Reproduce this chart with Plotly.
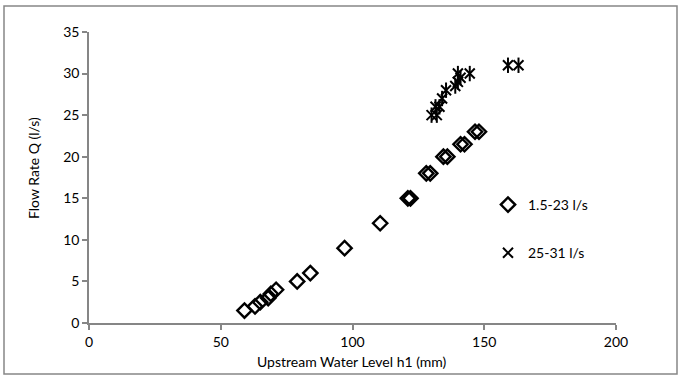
import plotly.graph_objects as go

# Series 1: 1.5-23 l/s (diamonds)
h1_low = [59, 63, 65, 68, 69, 71, 79, 84, 97, 110.5, 121, 122, 128, 129.5, 134.5, 136, 141, 142.5, 146.5, 148]
q_low = [1.5, 2, 2.5, 3, 3.5, 4, 5, 6, 9, 12, 15, 15, 18, 18, 20, 20, 21.5, 21.5, 23, 23]

# Series 2: 25-31 l/s (stars)
h1_high = [130, 132, 131.5, 133, 134, 135.5, 139, 140, 140, 141, 144.5, 159, 163]
q_high = [25, 25, 26, 26, 27, 28, 28.5, 29, 30, 29.5, 30, 31, 31]

x_ticks = [0, 50, 100, 150, 200]
y_ticks = [0, 5, 10, 15, 20, 25, 30, 35]

FONT = "Lato"
FS = 14
AXIS_COLOR = "#868686"

fig = go.Figure()

fig.add_trace(go.Scatter(
    x=h1_low, y=q_low, mode="markers", name="1.5-23 l/s", legendgroup="a",
    marker=dict(symbol="diamond-open", size=11, color="black",
                line=dict(width=2.4, color="black")),
))
fig.add_trace(go.Scatter(
    x=h1_high, y=q_high, mode="markers", name="25-31 l/s", legendgroup="b",
    marker=dict(symbol="x-thin-open", size=10, color="black",
                line=dict(width=2, color="black")),
))
fig.add_trace(go.Scatter(
    x=h1_high, y=q_high, mode="markers", showlegend=False, hoverinfo="skip",
    legendgroup="b",
    marker=dict(symbol="line-ns-open", size=11, color="black",
                line=dict(width=2, color="black")),
))

L, R, T, B = 89, 64, 32, 55
W, H = 680, 378
pw, ph = W - L - R, H - T - B

def px_x(px):
    return (px - L) / pw

def px_y(py):
    return (H - B - py) / ph

fig.update_layout(
    width=W, height=H,
    margin=dict(l=L, r=R, t=T, b=B),
    paper_bgcolor="white", plot_bgcolor="white",
    font=dict(family=FONT, size=FS, color="black"),
    showlegend=True,
    legend=dict(x=px_x(488), y=px_y(189), xanchor="left", yanchor="top",
                bgcolor="rgba(0,0,0,0)", font=dict(family=FONT, size=FS),
                traceorder="grouped", tracegroupgap=27, itemwidth=30),
    xaxis=dict(range=[0, 200], tickvals=x_ticks, showgrid=False, zeroline=False,
               showline=True, linecolor=AXIS_COLOR, linewidth=1.5,
               ticks="outside", ticklen=5, tickcolor=AXIS_COLOR, tickwidth=1.5,
               tickfont=dict(family=FONT, size=FS)),
    yaxis=dict(range=[0, 35], tickvals=y_ticks, showgrid=False, zeroline=False,
               showline=True, linecolor=AXIS_COLOR, linewidth=1.5,
               ticks="outside", ticklen=5, tickcolor=AXIS_COLOR, tickwidth=1.5,
               tickfont=dict(family=FONT, size=FS)),
    shapes=[dict(type="rect", xref="paper", yref="paper",
                 x0=px_x(4), x1=px_x(677), y0=px_y(374), y1=px_y(6),
                 line=dict(color=AXIS_COLOR, width=1.5), fillcolor="rgba(0,0,0,0)",
                 layer="below")],
    annotations=[
        dict(text="Upstream Water Level h1 (mm)", xref="paper", yref="paper",
             x=px_x(352), y=px_y(361), xanchor="center", yanchor="middle",
             showarrow=False, font=dict(family=FONT, size=FS)),
        dict(text="Flow Rate Q (l/s)", xref="paper", yref="paper",
             x=px_x(33), y=px_y(168), xanchor="center", yanchor="middle",
             textangle=-90, showarrow=False, font=dict(family=FONT, size=FS)),
    ],
)

fig.write_html("out.html")
